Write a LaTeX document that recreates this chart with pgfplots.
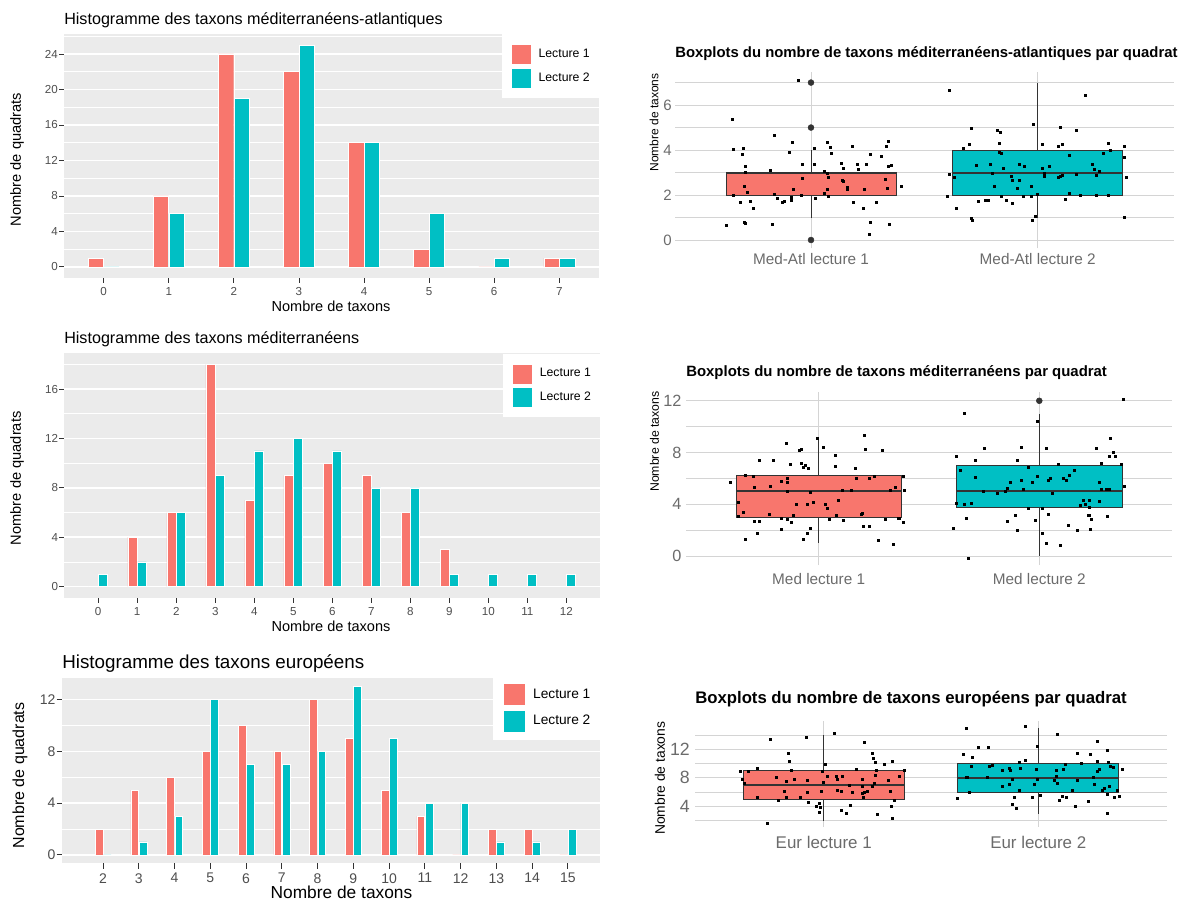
\documentclass[border=0pt]{standalone}
\usepackage{fontspec}
\setmainfont{Liberation Sans}
\usepackage{pgfplots}
\pgfplotsset{compat=1.18}
\usepgfplotslibrary{statistics}

\definecolor{lec1}{HTML}{F8766D}
\definecolor{lec2}{HTML}{00BFC4}
\definecolor{panel}{HTML}{EBEBEB}
\definecolor{ticktxt}{HTML}{4D4D4D}
\definecolor{tickln}{HTML}{333333}
\definecolor{bpgrid}{HTML}{D4D4D4}
\definecolor{bptxt}{HTML}{6B6B6B}
\definecolor{boxln}{HTML}{333333}

\newcommand{\fs}[1]{\fontsize{#1}{#1}\selectfont}

\pgfplotsset{
  hist/.style={
    scale only axis, anchor=south west,
    axis background/.style={fill=panel},
    axis line style={draw=none},
    ymajorgrids, yminorgrids,
    major grid style={white, line width=1.1pt},
    minor grid style={white, line width=0.55pt},
    tick align=outside, xtick pos=bottom, ytick pos=left,
    major tick length=3.75pt, minor tick length=0pt,
    tick style={tickln, line width=0.6pt},
    /pgf/number format/assume math mode=true,
    tick label style={text=ticktxt},
    yticklabel style={inner xsep=0.75pt},
    xticklabel style={inner ysep=3.3pt},
    legend style={at={(1,1)}, anchor=north east, draw=none, fill=white,
      row sep=2.25pt, column sep=5.25pt, inner xsep=6.75pt, inner ysep=7.5pt,
      nodes={inner sep=0pt}},
    legend cell align=left,
    legend image code/.code={\fill[##1] (0pt,-7.5pt) rectangle (15pt,7.5pt);},
  },
  l1/.style={ybar, bar width=0.235, bar shift=-0.12, fill=lec1, draw=white, line width=0.3pt},
  l2/.style={ybar, bar width=0.235, bar shift=0.12, fill=lec2, draw=white, line width=0.3pt},
  bp/.style={
    scale only axis, anchor=south west,
    axis line style={draw=none},
    xmin=0.4, xmax=2.6, xtick={1,2},
    xmajorgrids, ymajorgrids, yminorgrids,
    major grid style={bpgrid, line width=0.75pt},
    minor grid style={bpgrid, line width=0.75pt},
    major tick length=0pt, minor tick length=0pt,
    /pgf/number format/assume math mode=true,
    tick label style={text=bptxt},
    boxplot/draw direction=y,
    boxplot/box extend=0.75,
    boxplot/whisker extend=0,
    boxplot/every median/.style={line width=1.5pt},
  },
  jit/.style={only marks, mark=square*, mark size=0.75pt, black, mark options={draw=black, fill=black}},
  outl/.style={only marks, mark=*, mark size=2.2pt, boxln, mark options={draw=boxln, fill=boxln}},
  bx/.style={fill=#1, draw=boxln, line width=0.6pt},
}

\begin{document}
\begin{tikzpicture}
\useasboundingbox (0pt,0pt) rectangle (884.25pt,677.25pt);

% ---------- histogramme 1 : med-atl ----------
\begin{axis}[hist, at={(48pt,468.75pt)}, width=401.25pt, height=183pt,
  xmin=-0.61, xmax=7.61, ymin=-1.25, ymax=26.25,
  xtick={0,...,7}, ytick={0,4,...,24}, minor ytick={2,6,...,26},
  xticklabel style={font=\fs{8.7}}, yticklabel style={font=\fs{8.7}},
  legend style={font=\fs{9.2}}]
\addplot[l1] coordinates {(0,1)(1,8)(2,24)(3,22)(4,14)(5,2)(6,0)(7,1)};
\addplot[l2] coordinates {(0,0)(1,6)(2,19)(3,25)(4,14)(5,6)(6,1)(7,1)};
\legend{Lecture 1, Lecture 2}
\end{axis}
\node[anchor=base west, inner sep=0pt, font=\fs{12.1}] at (48pt,658.9pt) {Histogramme des taxons méditerranéens-atlantiques};
\node[anchor=base, inner sep=0pt, font=\fs{10.9}] at (248.25pt,443.25pt) {Nombre de taxons};
\node[rotate=90, inner sep=0pt, font=\fs{11}] at (12.75pt,557.6pt) {Nombre de quadrats};

% ---------- histogramme 2 : med ----------
\begin{axis}[hist, at={(48.2pt,228.98pt)}, width=402pt, height=183.3pt,
  xmin=-0.87, xmax=12.87, ymin=-0.9, ymax=18.9,
  xtick={0,...,12}, ytick={0,4,...,16}, minor ytick={2,6,...,18},
  xticklabel style={font=\fs{8.7}}, yticklabel style={font=\fs{8.7}},
  legend style={font=\fs{9.2}}]
\addplot[l1] coordinates {(0,0)(1,4)(2,6)(3,18)(4,7)(5,9)(6,10)(7,9)(8,6)(9,3)(10,0)(11,0)(12,0)};
\addplot[l2] coordinates {(0,1)(1,2)(2,6)(3,9)(4,11)(5,12)(6,11)(7,8)(8,8)(9,1)(10,1)(11,1)(12,1)};
\legend{Lecture 1, Lecture 2}
\end{axis}
\node[anchor=base west, inner sep=0pt, font=\fs{12.1}] at (48pt,419.55pt) {Histogramme des taxons méditerranéens};
\node[anchor=base, inner sep=0pt, font=\fs{10.9}] at (248.25pt,203.25pt) {Nombre de taxons};
\node[rotate=90, inner sep=0pt, font=\fs{11}] at (12.75pt,318.5pt) {Nombre de quadrats};

% ---------- histogramme 3 : eur ----------
\begin{axis}[hist, at={(46.5pt,29.78pt)}, width=403.5pt, height=138.75pt,
  xmin=0.85, xmax=15.9, ymin=-0.65, ymax=13.65,
  xtick={2,...,15}, ytick={0,4,8,12}, minor ytick={2,6,10},
  major tick length=4pt,
  l1/.style={ybar, bar width=0.22, bar shift=-0.115, fill=lec1, draw=white, line width=0.3pt},
  l2/.style={ybar, bar width=0.22, bar shift=0.115, fill=lec2, draw=white, line width=0.3pt},
  xticklabel style={font=\fs{10.5}}, yticklabel style={font=\fs{10.5}},
  legend style={font=\fs{10.3}, yshift=2.5pt, inner xsep=7pt, inner ysep=6pt, row sep=3pt, column sep=5.5pt},
  legend image code/.code={\fill[#1] (0pt,-8.25pt) rectangle (17pt,8.25pt);}]
\addplot[l1] coordinates {(2,2)(3,5)(4,6)(5,8)(6,10)(7,8)(8,12)(9,9)(10,5)(11,3)(12,0)(13,2)(14,2)(15,0)};
\addplot[l2] coordinates {(2,0)(3,1)(4,3)(5,12)(6,7)(7,7)(8,8)(9,13)(10,9)(11,4)(12,4)(13,1)(14,1)(15,2)};
\legend{Lecture 1, Lecture 2}
\end{axis}
\node[anchor=base west, inner sep=0pt, font=\fs{14.1}] at (46.5pt,175.9pt) {Histogramme des taxons européens};
\node[anchor=base, inner sep=0pt, font=\fs{13}] at (256.1pt,3pt) {Nombre de taxons};
\node[rotate=90, inner sep=0pt, font=\fs{12}] at (15pt,95.6pt) {Nombre de quadrats};

% ---------- boxplot 1 : med-atl ----------
\begin{axis}[bp, at={(506.25pt,491pt)}, width=374pt, height=131.9pt,
  ymin=-0.37, ymax=7.45, ytick={0,2,4,6}, minor ytick={1,3,5,7},
  xticklabels={Med-Atl lecture 1, Med-Atl lecture 2},
  xticklabel style={font=\fs{11.5}, inner ysep=3.8pt},
  yticklabel style={font=\fs{11.25}, inner xsep=2.25pt}]
\addplot[bx=lec1, boxplot prepared={lower whisker=1, lower quartile=2, median=3, upper quartile=3, upper whisker=4, draw position=1}] coordinates {};
\addplot[bx=lec2, boxplot prepared={lower whisker=1, lower quartile=2, median=3, upper quartile=4, upper whisker=7, draw position=2}] coordinates {};
\addplot[outl] coordinates {(1,0)(1,5)(1,7)};
\addplot[jit] coordinates {(0.625,0.67)(0.653,5.39)(0.657,4.03)(0.70,4.10)(0.697,3.82)(0.71,3.26)(0.709,2.99)(0.704,2.37)(0.72,2.13)(0.657,1.98)(0.69,1.66)(0.73,1.73)(0.745,1.41)(0.706,0.80)(0.71,0.73)(0.83,0.71)(0.82,3.11)(0.84,4.64)(0.84,2.03)(0.85,1.87)(0.875,1.66)(0.884,1.73)(0.915,1.90)(0.915,1.78)(0.903,3.92)(0.916,4.33)(0.92,2.27)(0.955,1.97)(0.96,2.73)(0.963,3.38)(0.943,7.10)(1.013,4.06)(1.016,3.38)(1.02,1.87)(1.06,2.07)(1.06,3.04)(1.07,4.33)(1.084,4.12)(1.088,3.84)(1.07,2.96)(1.076,2.79)(1.07,2.24)(1.076,1.94)(1.132,3.42)(1.144,3.17)(1.137,2.65)(1.143,2.62)(1.159,2.36)(1.16,2.24)(1.18,4.18)(1.185,1.66)(1.203,3.38)(1.209,3.14)(1.23,1.41)(1.237,2.27)(1.245,3.36)(1.262,3.82)(1.26,0.78)(1.256,0.27)(1.287,1.69)(1.31,3.73)(1.328,2.71)(1.332,4.15)(1.34,4.39)(1.345,0.71)(1.337,2.32)(1.343,3.26)(1.356,3.33)(1.396,2.41)};
\addplot[jit] coordinates {(1.61,6.67)(2.21,6.44)(1.98,5.13)(1.707,4.96)(1.82,4.87)(1.835,4.79)(2.10,5.0)(2.17,4.87)(1.70,4.24)(1.67,4.06)(1.83,4.28)(2.02,4.24)(2.09,4.19)(2.11,4.24)(2.31,4.28)(2.32,4.0)(2.38,4.15)(2.38,3.70)(2.29,3.85)(2.14,3.75)(1.83,3.92)(1.84,3.84)(1.73,3.33)(1.79,3.38)(1.85,3.17)(1.92,3.38)(1.94,3.29)(2.02,3.21)(2.05,3.29)(2.24,3.35)(2.25,3.14)(2.27,3.07)(2.26,2.89)(2.17,2.93)(2.11,2.89)(2.10,2.83)(2.09,2.77)(2.03,2.95)(2.03,2.83)(1.885,2.83)(1.89,2.67)(1.92,2.67)(1.91,2.31)(1.97,2.37)(1.81,2.37)(1.80,2.96)(1.63,2.81)(1.61,2.93)(1.60,1.93)(1.64,1.42)(1.74,1.73)(1.77,1.78)(1.78,1.78)(1.84,1.93)(1.86,1.78)(1.89,1.64)(1.935,1.93)(1.97,1.93)(2.0,2.04)(2.12,1.82)(2.14,2.07)(2.19,2.0)(2.26,1.97)(2.31,1.97)(1.705,0.96)(1.71,0.89)(1.99,1.04)(1.976,0.89)(2.38,1.02)(2.39,2.79)};
\end{axis}
\node[anchor=base west, inner sep=0pt, font=\bfseries\fs{11.15}] at (506.25pt,634.1pt) {Boxplots du nombre de taxons méditerranéens-atlantiques par quadrat};
\node[rotate=90, inner sep=0pt, font=\fs{9}] at (490.5pt,585.4pt) {Nombre de taxons};

% ---------- boxplot 2 : med ----------
\begin{axis}[bp, at={(514.7pt,253.4pt)}, width=364.05pt, height=130.05pt,
  ymin=-0.7, ymax=12.7, ytick={0,4,8,12}, minor ytick={2,6,10},
  xticklabels={Med lecture 1, Med lecture 2},
  xticklabel style={font=\fs{11.5}, inner ysep=5.8pt},
  yticklabel style={font=\fs{12.2}, inner xsep=3.4pt}]
\addplot[bx=lec1, boxplot prepared={lower whisker=1, lower quartile=3, median=5, upper quartile=6.25, upper whisker=9, draw position=1}] coordinates {};
\addplot[bx=lec2, boxplot prepared={lower whisker=0, lower quartile=3.75, median=5, upper quartile=7, upper whisker=11, draw position=2}] coordinates {};
\addplot[outl] coordinates {(2,12)};
\addplot[jit] coordinates {(0.60,5.67)(0.636,4.17)(0.636,3.09)(0.66,3.35)(0.666,6.26)(0.667,1.29)(0.705,6.13)(0.708,5.28)(0.708,2.68)(0.73,2.70)(0.72,1.75)(0.73,7.37)(0.776,3.25)(0.78,5.36)(0.796,7.37)(0.83,5.80)(0.83,2.91)(0.83,2.06)(0.855,8.71)(0.857,5.98)(0.86,5.67)(0.86,2.86)(0.86,5.02)(0.87,7.11)(0.878,2.65)(0.885,3.12)(0.91,8.14)(0.92,8.22)(0.90,4.0)(0.92,7.21)(0.93,6.85)(0.94,6.98)(0.955,6.78)(0.93,1.29)(0.95,1.75)(0.96,2.11)(0.964,4.95)(0.95,4.02)(0.974,4.15)(0.994,9.10)(1.02,8.40)(1.03,4.02)(1.04,3.73)(1.047,2.86)(1.074,7.80)(1.074,6.95)(1.078,3.17)(1.09,4.33)(1.107,5.05)(1.11,2.78)(1.15,5.05)(1.168,6.75)(1.169,6.0)(1.195,3.22)(1.196,3.33)(1.20,2.27)(1.207,9.33)(1.21,8.24)(1.23,2.32)(1.23,6.0)(1.25,6.18)(1.27,1.24)(1.29,8.19)(1.30,2.86)(1.323,5.10)(1.338,0.95)(1.347,5.30)(1.36,2.91)(1.384,6.13)(1.39,5.05)(1.384,2.63)(1.365,2.94)};
\addplot[jit] coordinates {(1.66,11.03)(1.68,-0.18)(1.61,2.14)(1.625,7.75)(1.64,6.65)(1.625,4.07)(1.66,4.02)(1.69,4.07)(1.67,2.91)(1.71,7.37)(1.71,6.08)(1.75,8.32)(1.745,4.97)(1.81,4.89)(1.845,5.02)(1.857,5.23)(1.87,5.74)(1.857,2.70)(1.89,3.12)(1.90,2.0)(1.90,7.37)(1.92,8.40)(1.92,5.87)(1.926,5.15)(1.95,6.90)(1.95,3.66)(1.967,5.72)(1.99,6.18)(1.98,2.78)(1.99,10.38)(2.015,3.73)(2.015,1.75)(2.03,8.32)(2.04,5.82)(2.05,6.0)(2.04,3.25)(2.06,4.89)(2.03,0.98)(2.085,7.11)(2.094,0.85)(2.11,6.0)(2.12,5.82)(2.135,6.26)(2.16,6.65)(2.13,2.40)(2.17,2.0)(2.185,3.94)(2.20,4.33)(2.21,4.0)(2.225,4.33)(2.225,3.79)(2.22,3.17)(2.228,3.17)(2.236,2.86)(2.23,2.09)(2.26,8.32)(2.27,4.2)(2.27,5.74)(2.28,7.21)(2.28,5.15)(2.305,5.2)(2.316,5.15)(2.31,3.09)(2.32,9.14)(2.335,8.06)(2.317,7.75)(2.346,7.75)(2.372,7.11)(2.385,5.43)(2.38,12.11)};
\end{axis}
\node[anchor=base west, inner sep=0pt, font=\bfseries\fs{11.2}] at (514.5pt,394.5pt) {Boxplots du nombre de taxons méditerranéens par quadrat};
\node[rotate=90, inner sep=0pt, font=\fs{9.2}] at (490.9pt,346pt) {Nombre de taxons};

% ---------- boxplot 3 : eur ----------
\begin{axis}[bp, at={(521.25pt,57.15pt)}, width=354pt, height=79pt,
  ymin=1.15, ymax=15.9, ytick={4,8,12}, minor ytick={2,6,10,14},
  xticklabels={Eur lecture 1, Eur lecture 2},
  xticklabel style={font=\fs{12.7}, inner ysep=6.7pt},
  yticklabel style={font=\fs{13.3}, inner xsep=3.75pt}]
\addplot[bx=lec1, boxplot prepared={lower whisker=2, lower quartile=5, median=7, upper quartile=9, upper whisker=14, draw position=1}] coordinates {};
\addplot[bx=lec2, boxplot prepared={lower whisker=3, lower quartile=6, median=8, upper quartile=10, upper whisker=15, draw position=2}] coordinates {};
\addplot[jit] coordinates {(0.61,8.96)(0.62,7.84)(0.63,7.24)(0.646,8.96)(0.69,9.38)(0.69,5.22)(0.736,1.64)(0.753,13.34)(0.778,8.12)(0.79,4.86)(0.816,6.16)(0.824,7.46)(0.837,11.44)(0.84,10.36)(0.85,9.1)(0.863,7.84)(0.827,5.28)(0.89,5.22)(0.92,13.68)(0.922,7.7)(0.925,5.98)(0.927,4.52)(0.963,4.06)(0.98,4.38)(0.983,3.82)(0.978,3.12)(0.994,8.96)(0.998,7.38)(0.987,6.16)(1.008,9.9)(1.015,8.26)(1.05,14.24)(1.06,8.26)(1.063,7.8)(1.065,6.26)(1.084,6.12)(1.087,8.26)(1.084,3.4)(1.104,3.04)(1.117,6.96)(1.126,4.1)(1.135,5.92)(1.15,9.2)(1.178,7.8)(1.18,6.76)(1.18,5.84)(1.185,5.28)(1.19,5.98)(1.188,13.02)(1.225,11.44)(1.233,10.68)(1.242,10.22)(1.247,9.1)(1.24,8.3)(1.236,7.24)(1.228,6.86)(1.203,6.16)(1.248,2.9)(1.28,9.94)(1.30,7.7)(1.31,6.06)(1.314,4.06)(1.318,2.34)(1.32,10.36)(1.33,4.8)(1.35,8.16)(1.377,9.0)};
\addplot[jit] coordinates {(1.624,5.14)(1.65,11.3)(1.666,14.94)(1.666,8.02)(1.68,5.98)(1.688,9.56)(1.69,10.82)(1.72,12.28)(1.766,12.28)(1.762,8.02)(1.77,9.66)(1.784,9.76)(1.83,9.1)(1.834,6.86)(1.865,9.34)(1.87,9.1)(1.865,7.1)(1.88,7.84)(1.887,5.28)(1.88,4.34)(1.896,3.74)(1.91,10.12)(1.91,6.3)(1.915,9.34)(1.938,15.26)(1.94,10.5)(1.97,5.28)(1.98,7.1)(1.99,9.2)(1.995,12.36)(1.993,7.84)(2.01,5.5)(2.073,7.7)(2.086,9.1)(2.086,8.26)(2.088,7.24)(2.09,14.14)(2.1,4.9)(2.11,5.36)(2.117,9.2)(2.124,9.9)(2.13,5.28)(2.157,6.3)(2.172,4.06)(2.18,7.7)(2.182,11.44)(2.2,10.04)(2.235,4.66)(2.24,11.3)(2.256,8.08)(2.26,7.14)(2.277,13.16)(2.275,8.86)(2.277,10.36)(2.284,9.2)(2.297,6.3)(2.306,6.54)(2.32,11.9)(2.32,5.72)(2.32,3.04)(2.326,10.12)(2.33,6.86)(2.334,9.66)(2.354,5.28)(2.35,9.42)(2.37,6.3)(2.376,5.46)(2.39,9.24)(1.67,8.08)};
\end{axis}
\node[anchor=base west, inner sep=0pt, font=\bfseries\fs{12.55}] at (521.25pt,149.6pt) {Boxplots du nombre de taxons européens par quadrat};
\node[rotate=90, inner sep=0pt, font=\fs{10.4}] at (495pt,93.5pt) {Nombre de taxons};

\end{tikzpicture}
\end{document}
